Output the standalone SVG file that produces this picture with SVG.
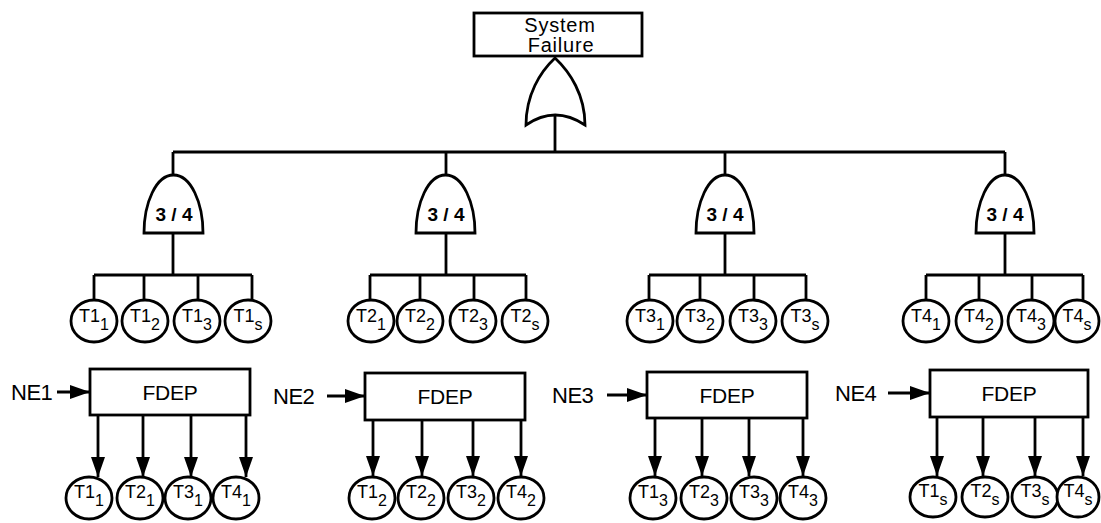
<svg xmlns="http://www.w3.org/2000/svg" width="1101" height="523" viewBox="0 0 1101 523">
<style>
.ln{stroke:#000;stroke-width:2.8;fill:none}
.sh{stroke:#000;stroke-width:2.8;fill:#fff}
.t{font-family:"Liberation Sans",Arial,sans-serif;fill:#000}
.ev{font-size:18px}
.sub{font-size:16px}
.g{font-size:19px;font-weight:bold}
.big{font-size:21px;letter-spacing:-0.3px}
.ne{font-size:22px;letter-spacing:-0.5px}
</style>
<defs>
<marker id="ah" markerUnits="userSpaceOnUse" markerWidth="20" markerHeight="14" refX="20" refY="7" orient="auto">
<path d="M0,0 L20,7 L0,14 Z" fill="#000"/>
</marker>
</defs>
<g id="connectors">
<path class="ln" d="M555,115 V152 M173,152 H1005 M173,152 V175 M446,152 V175 M725,152 V175 M1005,152 V175"/>
<path class="ln" d="M173,233 V275 M94,275 H252 M94,275 V300 M144,275 V300 M198,275 V300 M252,275 V300"/>
<path class="ln" d="M446,233 V275 M370,275 H526 M370,275 V300 M420,275 V300 M474,275 V300 M526,275 V300"/>
<path class="ln" d="M725,233 V275 M649,275 H806 M649,275 V300 M700,275 V300 M754,275 V300 M806,275 V300"/>
<path class="ln" d="M1005,233 V275 M926,275 H1083 M926,275 V300 M979,275 V300 M1032,275 V300 M1083,275 V300"/>
<g marker-end="url(#ah)">
<line class="ln" x1="57" y1="392" x2="90" y2="392"/>
<line class="ln" x1="327" y1="396" x2="365" y2="396"/>
<line class="ln" x1="607" y1="395" x2="647" y2="395"/>
<line class="ln" x1="888" y1="393" x2="930" y2="393"/>
<line class="ln" x1="98" y1="415" x2="98" y2="477"/>
<line class="ln" x1="143" y1="415" x2="143" y2="477"/>
<line class="ln" x1="191" y1="415" x2="191" y2="477"/>
<line class="ln" x1="246" y1="415" x2="246" y2="477"/>
<line class="ln" x1="373" y1="420" x2="373" y2="476"/>
<line class="ln" x1="422" y1="420" x2="422" y2="476"/>
<line class="ln" x1="473" y1="420" x2="473" y2="476"/>
<line class="ln" x1="521" y1="420" x2="521" y2="476"/>
<line class="ln" x1="655" y1="418" x2="655" y2="476"/>
<line class="ln" x1="702" y1="418" x2="702" y2="476"/>
<line class="ln" x1="749" y1="418" x2="749" y2="476"/>
<line class="ln" x1="803" y1="418" x2="803" y2="476"/>
<line class="ln" x1="937" y1="417" x2="937" y2="476"/>
<line class="ln" x1="983" y1="417" x2="983" y2="476"/>
<line class="ln" x1="1035" y1="417" x2="1035" y2="476"/>
<line class="ln" x1="1083" y1="417" x2="1083" y2="476"/>
</g>
</g>
<g id="top">
<rect class="sh" x="474" y="13" width="168" height="43"/>
<text class="t" x="560" y="32" font-size="20" text-anchor="middle" letter-spacing="0.8">System</text>
<text class="t" x="561" y="52" font-size="20" text-anchor="middle" letter-spacing="0.8">Failure</text>
</g>
<g id="or-gate">
<path class="sh" d="M526,125 C526,95 540,72 555,58 C570,72 585,95 585,125 Q555,105 526,125 Z"/>
</g>
<g id="vote1"><path class="sh" d="M144,233 C144,203 156,175 173.5,175 C191,175 203,203 203,233 Z"/><text class="t g" x="174" y="221" text-anchor="middle">3 / 4</text></g>
<g id="vote2"><path class="sh" d="M416,233 C416,203 428,175 445.5,175 C463,175 475,203 475,233 Z"/><text class="t g" x="446" y="221" text-anchor="middle">3 / 4</text></g>
<g id="vote3"><path class="sh" d="M696,233 C696,203 708,175 725,175 C742,175 754,203 754,233 Z"/><text class="t g" x="725" y="221" text-anchor="middle">3 / 4</text></g>
<g id="vote4"><path class="sh" d="M976,233 C976,203 988,175 1005,175 C1022,175 1034,203 1034,233 Z"/><text class="t g" x="1005" y="221" text-anchor="middle">3 / 4</text></g>

<g id="top-events" class="t">
<g id="e-T1-1"><ellipse class="sh" cx="94" cy="321" rx="23" ry="21"/><text class="ev" x="94" y="322" text-anchor="middle">T1<tspan class="sub" dy="8">1</tspan></text></g>
<g id="e-T1-2"><ellipse class="sh" cx="145" cy="321" rx="23" ry="21"/><text class="ev" x="145" y="322" text-anchor="middle">T1<tspan class="sub" dy="8">2</tspan></text></g>
<g id="e-T1-3"><ellipse class="sh" cx="197" cy="321" rx="23" ry="21"/><text class="ev" x="197" y="322" text-anchor="middle">T1<tspan class="sub" dy="8">3</tspan></text></g>
<g id="e-T1-s"><ellipse class="sh" cx="248" cy="321" rx="23" ry="21"/><text class="ev" x="248" y="322" text-anchor="middle">T1<tspan class="sub" dy="8">s</tspan></text></g>
<g id="e-T2-1"><ellipse class="sh" cx="371" cy="321" rx="23" ry="21"/><text class="ev" x="371" y="322" text-anchor="middle">T2<tspan class="sub" dy="8">1</tspan></text></g>
<g id="e-T2-2"><ellipse class="sh" cx="420" cy="321" rx="23" ry="21"/><text class="ev" x="420" y="322" text-anchor="middle">T2<tspan class="sub" dy="8">2</tspan></text></g>
<g id="e-T2-3"><ellipse class="sh" cx="473" cy="321" rx="23" ry="21"/><text class="ev" x="473" y="322" text-anchor="middle">T2<tspan class="sub" dy="8">3</tspan></text></g>
<g id="e-T2-s"><ellipse class="sh" cx="525" cy="321" rx="23" ry="21"/><text class="ev" x="525" y="322" text-anchor="middle">T2<tspan class="sub" dy="8">s</tspan></text></g>
<g id="e-T3-1"><ellipse class="sh" cx="650" cy="321" rx="23" ry="21"/><text class="ev" x="650" y="322" text-anchor="middle">T3<tspan class="sub" dy="8">1</tspan></text></g>
<g id="e-T3-2"><ellipse class="sh" cx="700" cy="321" rx="23" ry="21"/><text class="ev" x="700" y="322" text-anchor="middle">T3<tspan class="sub" dy="8">2</tspan></text></g>
<g id="e-T3-3"><ellipse class="sh" cx="753" cy="321" rx="23" ry="21"/><text class="ev" x="753" y="322" text-anchor="middle">T3<tspan class="sub" dy="8">3</tspan></text></g>
<g id="e-T3-s"><ellipse class="sh" cx="805" cy="321" rx="23" ry="21"/><text class="ev" x="805" y="322" text-anchor="middle">T3<tspan class="sub" dy="8">s</tspan></text></g>
<g id="e-T4-1"><ellipse class="sh" cx="926" cy="321" rx="23" ry="21"/><text class="ev" x="926" y="322" text-anchor="middle">T4<tspan class="sub" dy="8">1</tspan></text></g>
<g id="e-T4-2"><ellipse class="sh" cx="979" cy="321" rx="23" ry="21"/><text class="ev" x="979" y="322" text-anchor="middle">T4<tspan class="sub" dy="8">2</tspan></text></g>
<g id="e-T4-3"><ellipse class="sh" cx="1031" cy="321" rx="23" ry="21"/><text class="ev" x="1031" y="322" text-anchor="middle">T4<tspan class="sub" dy="8">3</tspan></text></g>
<g id="e-T4-s"><ellipse class="sh" cx="1077" cy="321" rx="22" ry="21"/><text class="ev" x="1077" y="322" text-anchor="middle">T4<tspan class="sub" dy="8">s</tspan></text></g>
</g>

<g id="fdep1"><rect class="sh" x="90" y="369" width="160" height="46"/><text class="t big" x="170" y="400" text-anchor="middle">FDEP</text><text class="t ne" x="11" y="400">NE1</text></g>
<g id="fdep2"><rect class="sh" x="365" y="373" width="160" height="47"/><text class="t big" x="445" y="404" text-anchor="middle">FDEP</text><text class="t ne" x="273" y="404">NE2</text></g>
<g id="fdep3"><rect class="sh" x="647" y="372" width="160" height="46"/><text class="t big" x="727" y="403" text-anchor="middle">FDEP</text><text class="t ne" x="552" y="403">NE3</text></g>
<g id="fdep4"><rect class="sh" x="930" y="370" width="158" height="47"/><text class="t big" x="1009" y="401" text-anchor="middle">FDEP</text><text class="t ne" x="835" y="401">NE4</text></g>

<g id="bottom-events" class="t">
<g id="b-T1-1"><ellipse class="sh" cx="89" cy="498" rx="23" ry="21"/><text class="ev" x="89" y="498" text-anchor="middle">T1<tspan class="sub" dy="8">1</tspan></text></g>
<g id="b-T2-1"><ellipse class="sh" cx="140" cy="498" rx="23" ry="21"/><text class="ev" x="140" y="498" text-anchor="middle">T2<tspan class="sub" dy="8">1</tspan></text></g>
<g id="b-T3-1"><ellipse class="sh" cx="188" cy="498" rx="23" ry="21"/><text class="ev" x="188" y="498" text-anchor="middle">T3<tspan class="sub" dy="8">1</tspan></text></g>
<g id="b-T4-1"><ellipse class="sh" cx="236" cy="498" rx="23" ry="21"/><text class="ev" x="236" y="498" text-anchor="middle">T4<tspan class="sub" dy="8">1</tspan></text></g>
<g id="b-T1-2"><ellipse class="sh" cx="372" cy="498" rx="23" ry="21"/><text class="ev" x="372" y="498" text-anchor="middle">T1<tspan class="sub" dy="8">2</tspan></text></g>
<g id="b-T2-2"><ellipse class="sh" cx="421" cy="498" rx="23" ry="21"/><text class="ev" x="421" y="498" text-anchor="middle">T2<tspan class="sub" dy="8">2</tspan></text></g>
<g id="b-T3-2"><ellipse class="sh" cx="471" cy="498" rx="23" ry="21"/><text class="ev" x="471" y="498" text-anchor="middle">T3<tspan class="sub" dy="8">2</tspan></text></g>
<g id="b-T4-2"><ellipse class="sh" cx="521" cy="498" rx="23" ry="21"/><text class="ev" x="521" y="498" text-anchor="middle">T4<tspan class="sub" dy="8">2</tspan></text></g>
<g id="b-T1-3"><ellipse class="sh" cx="653" cy="498" rx="23" ry="21"/><text class="ev" x="653" y="498" text-anchor="middle">T1<tspan class="sub" dy="8">3</tspan></text></g>
<g id="b-T2-3"><ellipse class="sh" cx="704" cy="498" rx="23" ry="21"/><text class="ev" x="704" y="498" text-anchor="middle">T2<tspan class="sub" dy="8">3</tspan></text></g>
<g id="b-T3-3"><ellipse class="sh" cx="754" cy="498" rx="23" ry="21"/><text class="ev" x="754" y="498" text-anchor="middle">T3<tspan class="sub" dy="8">3</tspan></text></g>
<g id="b-T4-3"><ellipse class="sh" cx="803" cy="498" rx="23" ry="21"/><text class="ev" x="803" y="498" text-anchor="middle">T4<tspan class="sub" dy="8">3</tspan></text></g>
<g id="b-T1-s"><ellipse class="sh" cx="933" cy="497" rx="23" ry="20"/><text class="ev" x="933" y="497" text-anchor="middle">T1<tspan class="sub" dy="8">s</tspan></text></g>
<g id="b-T2-s"><ellipse class="sh" cx="985" cy="497" rx="23" ry="20"/><text class="ev" x="985" y="497" text-anchor="middle">T2<tspan class="sub" dy="8">s</tspan></text></g>
<g id="b-T3-s"><ellipse class="sh" cx="1035" cy="497" rx="23" ry="20"/><text class="ev" x="1035" y="497" text-anchor="middle">T3<tspan class="sub" dy="8">s</tspan></text></g>
<g id="b-T4-s"><ellipse class="sh" cx="1078" cy="497" rx="21" ry="20"/><text class="ev" x="1078" y="497" text-anchor="middle">T4<tspan class="sub" dy="8">s</tspan></text></g>
</g>
</svg>
